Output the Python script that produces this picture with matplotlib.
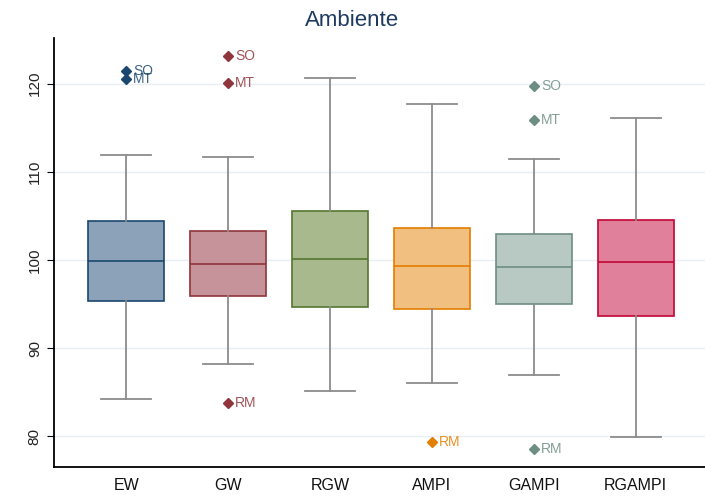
import matplotlib.pyplot as plt

plt.rcParams["font.family"] = ["Liberation Sans", "DejaVu Sans"]

categories = ["EW", "GW", "RGW", "AMPI", "GAMPI", "RGAMPI"]
whislo = [84.2, 88.2, 85.1, 86.1, 86.9, 79.9]
q1 = [95.3, 95.9, 94.7, 94.4, 95.0, 93.6]
med = [99.9, 99.5, 100.1, 99.3, 99.2, 99.8]
q3 = [104.4, 103.3, 105.5, 103.6, 103.0, 104.5]
whishi = [111.9, 111.7, 120.6, 117.7, 111.5, 116.1]

# outliers: (category index, value, label)
outliers = [
    (0, 121.4, "SO"), (0, 120.5, "MT"),
    (1, 123.1, "SO"), (1, 120.1, "MT"), (1, 83.75, "RM"),
    (3, 79.3, "RM"),
    (4, 119.7, "SO"), (4, 115.9, "MT"), (4, 78.5, "RM"),
]

fills = ["#8ca2b8", "#c7939a", "#a8b98e", "#f1bf7f", "#b8c8c2", "#e0809a"]
edges = ["#1a476f", "#90353b", "#55752f", "#e37e00", "#6e8e84", "#c10534"]

fig = plt.figure(figsize=(7.05, 4.98), dpi=100)
ax = fig.add_axes([0.077, 0.062, 0.923, 0.862])

stats = []
for i in range(len(categories)):
    stats.append({"whislo": whislo[i], "q1": q1[i], "med": med[i],
                  "q3": q3[i], "whishi": whishi[i], "fliers": []})

pos = list(range(1, len(categories) + 1))
bp = ax.bxp(stats, positions=pos, widths=0.745, patch_artist=True,
            showfliers=False,
            whiskerprops=dict(color="#8c8c8c", linewidth=1.3),
            capprops=dict(color="#8c8c8c", linewidth=1.3),
            capwidths=0.49)
for i, box in enumerate(bp["boxes"]):
    box.set_facecolor(fills[i])
    box.set_edgecolor(edges[i])
    box.set_linewidth(1.2)
    bp["medians"][i].set_color(edges[i])
    bp["medians"][i].set_linewidth(1.2)

for idx, val, lab in outliers:
    ax.plot(pos[idx], val, marker="D", markersize=5, color=edges[idx],
            linestyle="none")
    ax.text(pos[idx] + 0.07, val, lab, color=edges[idx], fontsize=10,
            va="center", ha="left", alpha=0.85)

ax.set_xlim(0.295, 6.68)
ax.set_ylim(76.5, 125.2)
ax.set_yticks([80, 90, 100, 110, 120])
ax.set_yticklabels(["80", "90", "100", "110", "120"], rotation=90,
                   va="center", fontsize=11, color="#222222")
ax.set_xticks(pos)
ax.set_xticklabels(categories, fontsize=11.5, color="#111111")
ax.tick_params(axis="x", length=0, pad=8)
ax.tick_params(axis="y", length=5, pad=4)
ax.yaxis.grid(True, color="#e8eef2", linewidth=1)
ax.set_axisbelow(True)
for s in ["top", "right"]:
    ax.spines[s].set_visible(False)
ax.spines["left"].set_linewidth(1.3)
ax.spines["bottom"].set_linewidth(1.3)

fig.text(0.5, 0.958, "Ambiente", ha="center", va="center", fontsize=16,
         color="#1e3a5f")

fig.savefig("out.png", dpi=100)
